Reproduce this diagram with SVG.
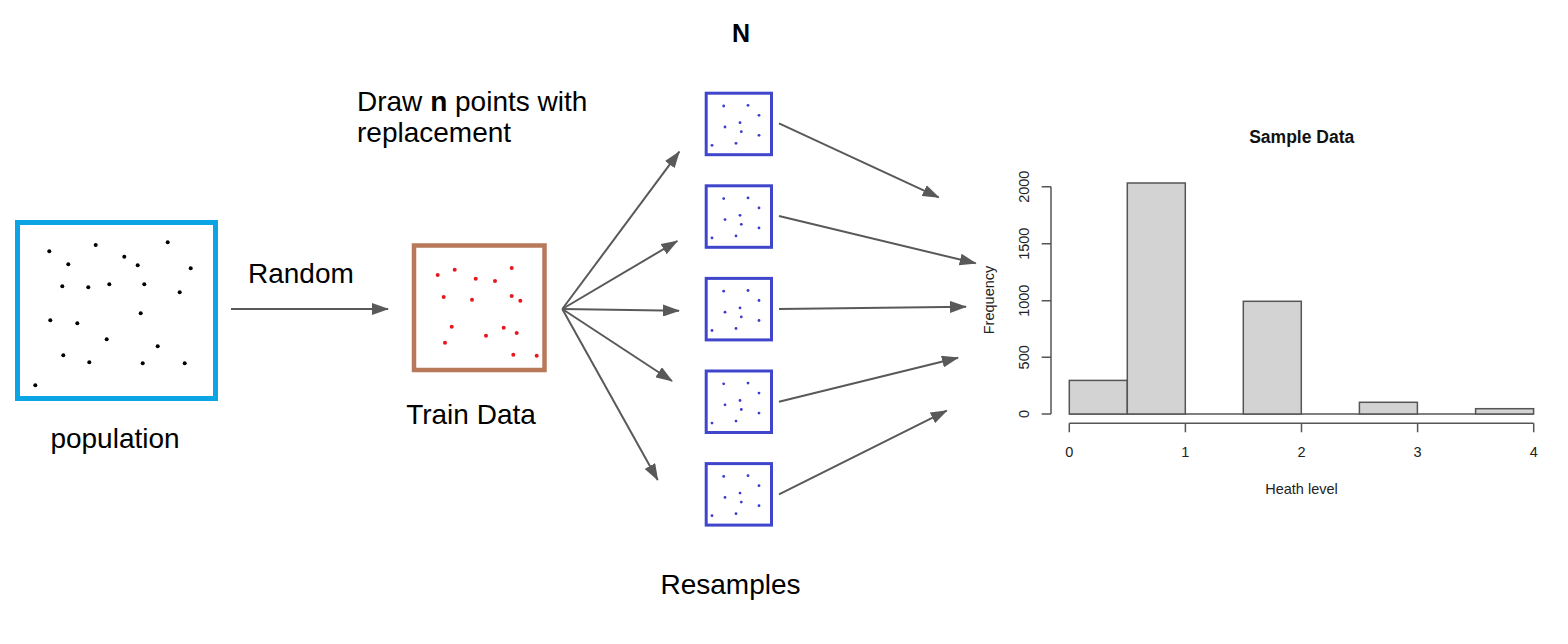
<svg xmlns="http://www.w3.org/2000/svg" xmlns:xlink="http://www.w3.org/1999/xlink" width="1568" height="644" viewBox="0 0 1568 644">
<style>
.lbl{font-family:"Liberation Sans",Arial,sans-serif;font-size:28px;fill:#000}
.bold{font-weight:bold}
.ax{font-family:"Liberation Sans",Arial,sans-serif;font-size:14.5px;fill:#222}
.conn{stroke:#595959;stroke-width:2;fill:none;marker-end:url(#ah)}
.rs{fill:#fff;stroke:#4046cc;stroke-width:3}
.bar{fill:#d3d3d3;stroke:#555;stroke-width:1.5}
.axl{stroke:#555;stroke-width:1.5;fill:none}
</style>
<defs>
<marker id="ah" markerUnits="userSpaceOnUse" markerWidth="17" markerHeight="12" refX="16" refY="6" orient="auto">
<path d="M0,0 L17,6 L0,12 z" fill="#595959"/>
</marker>
<g id="bdots" fill="#3b3bd0">
<circle cx="19" cy="14.3" r="1.4"/><circle cx="43.3" cy="13.6" r="1.4"/><circle cx="54.3" cy="23.6" r="1.4"/>
<circle cx="35.3" cy="31" r="1.4"/><circle cx="20.3" cy="35.3" r="1.4"/><circle cx="36.6" cy="40" r="1.4"/>
<circle cx="54.3" cy="43.6" r="1.4"/><circle cx="7.3" cy="53.6" r="1.4"/><circle cx="31.3" cy="51.6" r="1.4"/>
</g>
</defs>
<rect width="1568" height="644" fill="#fff"/>

<g id="population">
<rect x="17.5" y="222.5" width="198" height="176" fill="#fff" stroke="#0ba5e5" stroke-width="5"/>
<g fill="#000">
<circle cx="49.3" cy="251.3" r="2"/><circle cx="95.7" cy="245" r="2"/><circle cx="167.7" cy="242.3" r="2"/>
<circle cx="124.3" cy="256.7" r="2"/><circle cx="68.3" cy="264.3" r="2"/><circle cx="137.7" cy="265.3" r="2"/>
<circle cx="190.7" cy="268.3" r="2"/><circle cx="62.3" cy="286.3" r="2"/><circle cx="88.3" cy="287.3" r="2"/>
<circle cx="109.3" cy="284.3" r="2"/><circle cx="144.3" cy="284.3" r="2"/><circle cx="179.7" cy="292.3" r="2"/>
<circle cx="50.3" cy="320.3" r="2"/><circle cx="77.3" cy="323.3" r="2"/><circle cx="140.7" cy="313.3" r="2"/>
<circle cx="106.7" cy="339.3" r="2"/><circle cx="157.7" cy="346.3" r="2"/><circle cx="63.3" cy="355.3" r="2"/>
<circle cx="89.3" cy="362.3" r="2"/><circle cx="142.7" cy="363.3" r="2"/><circle cx="184.7" cy="363.3" r="2"/>
<circle cx="35.3" cy="385.3" r="2"/>
</g>
<text class="lbl" x="115" y="448" text-anchor="middle">population</text>
</g>

<g id="train-data">
<rect x="414" y="245.5" width="130.5" height="124.5" fill="#fff" stroke="#b8785a" stroke-width="4.5"/>
<g fill="#e8161e">
<circle cx="437.7" cy="275" r="2"/><circle cx="454.7" cy="269.7" r="2"/><circle cx="475.7" cy="278.7" r="2"/>
<circle cx="495" cy="281" r="2"/><circle cx="511.7" cy="268" r="2"/><circle cx="443.7" cy="297" r="2"/>
<circle cx="472" cy="299.7" r="2"/><circle cx="511.7" cy="296" r="2"/><circle cx="520.3" cy="300.7" r="2"/>
<circle cx="451.7" cy="326.7" r="2"/><circle cx="503.7" cy="327.7" r="2"/><circle cx="516.7" cy="333" r="2"/>
<circle cx="486" cy="335.7" r="2"/><circle cx="445" cy="342.7" r="2"/><circle cx="513.3" cy="354.7" r="2"/>
<circle cx="536.7" cy="355.7" r="2"/>
</g>
<text class="lbl" x="471" y="424" text-anchor="middle">Train Data</text>
</g>

<g id="resample-1"><rect class="rs" x="706.2" y="93.2" width="65.3" height="61.5"/><use xlink:href="#bdots" x="704.7" y="91.7"/></g>
<g id="resample-2"><rect class="rs" x="706.2" y="185.8" width="65.3" height="61.5"/><use xlink:href="#bdots" x="704.7" y="184.3"/></g>
<g id="resample-3"><rect class="rs" x="706.2" y="278.4" width="65.3" height="61.5"/><use xlink:href="#bdots" x="704.7" y="276.9"/></g>
<g id="resample-4"><rect class="rs" x="706.2" y="371" width="65.3" height="61.5"/><use xlink:href="#bdots" x="704.7" y="369.5"/></g>
<g id="resample-5"><rect class="rs" x="706.2" y="463.6" width="65.3" height="61.5"/><use xlink:href="#bdots" x="704.7" y="462.1"/></g>

<g id="labels">
<text class="lbl bold" x="741" y="42" text-anchor="middle" style="font-size:25px">N</text>
<text class="lbl" x="357" y="111">Draw <tspan class="bold">n</tspan> points with</text>
<text class="lbl" x="357" y="141.5">replacement</text>
<text class="lbl" x="248" y="283">Random</text>
<text class="lbl" x="730.5" y="594" text-anchor="middle">Resamples</text>
</g>

<g id="connectors">
<line class="conn" x1="231" y1="309" x2="388" y2="309"/>
<line class="conn" x1="562.3" y1="309" x2="679.3" y2="151.7"/>
<line class="conn" x1="562.3" y1="309" x2="677.3" y2="241"/>
<line class="conn" x1="562.3" y1="309" x2="679" y2="310.7"/>
<line class="conn" x1="562.3" y1="309" x2="672" y2="381"/>
<line class="conn" x1="562.3" y1="309" x2="657.7" y2="480"/>
<line class="conn" x1="779" y1="123.3" x2="938.7" y2="197.3"/>
<line class="conn" x1="779" y1="216" x2="975.7" y2="263.3"/>
<line class="conn" x1="779" y1="309" x2="966" y2="306.7"/>
<line class="conn" x1="779" y1="401.7" x2="958" y2="357.7"/>
<line class="conn" x1="779" y1="494.3" x2="946.7" y2="410.7"/>
</g>

<g id="histogram">
<text class="ax bold" x="1301.7" y="142.7" text-anchor="middle" style="font-size:17.5px;fill:#111">Sample Data</text>
<line class="axl" x1="1069" y1="414" x2="1533.7" y2="414"/>
<rect class="bar" x="1069.3" y="380.4" width="58" height="33.6"/>
<rect class="bar" x="1127.3" y="183" width="58" height="231"/>
<rect class="bar" x="1243.3" y="301.3" width="58" height="112.7"/>
<rect class="bar" x="1359.4" y="402.3" width="58" height="11.7"/>
<rect class="bar" x="1475.6" y="408.7" width="58" height="5.3"/>
<path class="axl" d="M1051,186.7 V414 M1041.7,186.7 H1051 M1041.7,243.7 H1051 M1041.7,300.7 H1051 M1041.7,357.3 H1051 M1041.7,414 H1051"/>
<path class="axl" d="M1069.3,423.3 H1533.7 M1069.3,423.3 V432.3 M1185.4,423.3 V432.3 M1301.5,423.3 V432.3 M1417.6,423.3 V432.3 M1533.7,423.3 V432.3"/>
<g class="ax" text-anchor="middle">
<text transform="translate(1028.5,186.7) rotate(-90)">2000</text>
<text transform="translate(1028.5,243.7) rotate(-90)">1500</text>
<text transform="translate(1028.5,300.7) rotate(-90)">1000</text>
<text transform="translate(1028.5,357.3) rotate(-90)">500</text>
<text transform="translate(1028.5,414) rotate(-90)">0</text>
<text x="1069.3" y="456.5">0</text>
<text x="1185.4" y="456.5">1</text>
<text x="1301.5" y="456.5">2</text>
<text x="1417.6" y="456.5">3</text>
<text x="1533.7" y="456.5">4</text>
<text x="1301.5" y="493.5">Heath level</text>
<text transform="translate(993.5,300) rotate(-90)">Frequency</text>
</g>
</g>
</svg>
